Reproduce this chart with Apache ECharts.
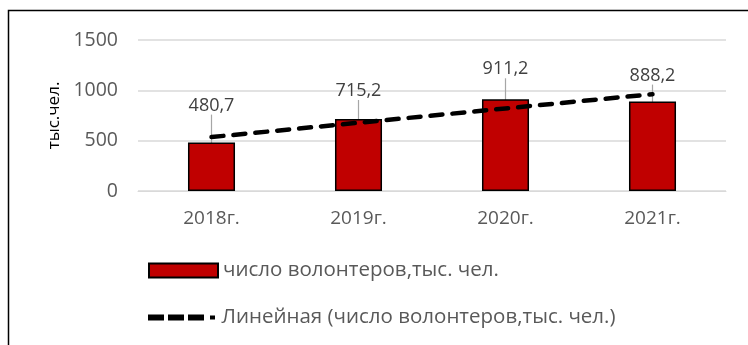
<!DOCTYPE html>
<html>
<head>
<meta charset="utf-8">
<script src="https://cdn.jsdelivr.net/npm/echarts@6/dist/echarts.min.js"></script>
<style>
  html, body { margin: 0; padding: 0; background: #fff; }
  #chart { width: 748px; height: 345px; }
</style>
</head>
<body>
<div id="chart"></div>
<script>
// Volunteers per year (thousand people) and the linear trend drawn over them
const years = ['2018г.', '2019г.', '2020г.', '2021г.'];
const volunteers = [480.7, 715.2, 911.2, 888.2];
const trend = [536, 678, 820, 962];
const yTicks = [0, 500, 1000, 1500];

const barName = 'число волонтеров,тыс. чел.';
const trendName = 'Линейная (число волонтеров,тыс. чел.)';
const fontFamily = '"Open Sans", "Noto Sans", sans-serif';

// extra lift of each value label above its bar, in px
const labelLift = [-24, -15, -17, -13];

const chart = echarts.init(document.getElementById('chart'), null, { renderer: 'canvas' });

const legendText = { fontFamily: fontFamily, fontSize: 20.5, color: '#595959' };

chart.setOption({
  animation: false,
  textStyle: { fontFamily: fontFamily },
  graphic: [{
    type: 'rect',
    shape: { x: 8.5, y: 10.5, width: 800, height: 400 },
    style: { fill: 'none', stroke: '#000', lineWidth: 1.5 },
    silent: true
  }],
  grid: { left: 138, right: 22, top: 40, bottom: 154, containLabel: false },
  legend: [
    {
      orient: 'vertical',
      left: 148,
      top: 260,
      padding: 0,
      itemWidth: 69,
      itemHeight: 14,
      icon: 'rect',
      textStyle: legendText,
      data: [barName]
    },
    {
      orient: 'vertical',
      left: 148,
      top: 307,
      padding: 0,
      itemWidth: 70,
      itemHeight: 6,
      icon: 'path://M0,0H16V6H0Z M20,0H36V6H20Z M40,0H56V6H40Z M62,1H67V5H62Z',
      textStyle: legendText,
      data: [trendName]
    }
  ],
  xAxis: {
    type: 'category',
    data: years,
    axisTick: { show: false },
    axisLine: { lineStyle: { color: '#d9d9d9', width: 1 } },
    axisLabel: { color: '#595959', fontSize: 19, margin: 18, fontFamily: fontFamily }
  },
  yAxis: {
    type: 'value',
    min: yTicks[0],
    max: yTicks[yTicks.length - 1],
    interval: 500,
    name: 'тыс.чел.',
    nameLocation: 'middle',
    nameGap: 75,
    nameTextStyle: { color: '#000', fontSize: 17, fontFamily: fontFamily },
    axisLine: { show: false },
    axisTick: { show: false },
    splitLine: { lineStyle: { color: '#d9d9d9', width: 1.5 } },
    axisLabel: {
      color: '#595959', fontSize: 19.5, margin: 20, fontFamily: fontFamily,
      formatter: v => String(v)
    }
  },
  series: [
    {
      name: barName,
      type: 'bar',
      data: volunteers,
      barWidth: '32%',
      itemStyle: { color: '#C00000', borderColor: '#000', borderWidth: 1.5 },
      label: {
        show: true,
        position: 'top',
        distance: 4,
        color: '#404040',
        fontSize: 18,
        fontFamily: fontFamily,
        formatter: p => String(p.value).replace('.', ',')
      },
      labelLayout: p => ({ dy: labelLift[p.dataIndex] }),
      labelLine: { show: true, lineStyle: { color: '#a6a6a6', width: 1.2 } },
      z: 2
    },
    {
      name: trendName,
      type: 'line',
      data: trend,
      symbol: 'none',
      lineStyle: { color: '#000', width: 4.5, type: [12, 10], cap: 'round' },
      itemStyle: { color: '#000' },
      z: 3
    }
  ]
});
</script>
</body>
</html>
